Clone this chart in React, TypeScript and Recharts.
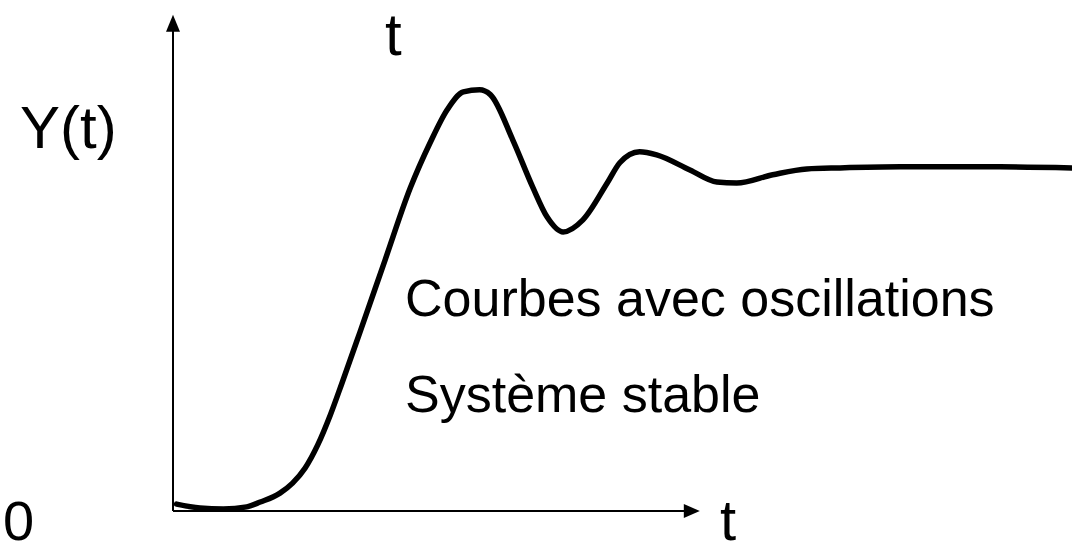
import React from "react";
import {
  LineChart,
  Line,
  XAxis,
  YAxis,
  ReferenceLine,
  ReferenceDot,
} from "recharts";

// step response (t in arbitrary time units, y normalised to the final value)
const times = [
  0.04, 0.3, 0.56, 0.82, 0.97, 1.19, 1.33, 1.47, 1.61, 1.75, 1.88, 2.08, 2.36, 2.64, 2.86,
  3.05, 3.23, 3.41, 3.53, 3.78, 4.0, 4.16, 4.34, 4.56, 4.83, 4.97, 5.19, 5.38, 5.75, 6.05,
  6.27, 6.67, 7.05, 7.42, 8.09, 9.2, 10.0,
];
const response = [
  0.02, 0.009, 0.006, 0.012, 0.026, 0.052, 0.081, 0.125, 0.192, 0.279, 0.372, 0.52, 0.73,
  0.939, 1.07, 1.166, 1.218, 1.224, 1.21, 1.078, 0.942, 0.855, 0.811, 0.846, 0.953, 1.012,
  1.044, 1.035, 0.991, 0.956, 0.953, 0.977, 0.994, 0.997, 1.0, 1.0, 0.997,
];

const X_AXIS_END = 5.86;
const Y_AXIS_END = 1.442;

const labels = {
  yTitle: "Y(t)",
  origin: "0",
  timeTop: "t",
  timeAxis: "t",
  line1: "Courbes avec oscillations",
  line2: "Système stable",
};

const data = times.map((t, i) => ({ t, y: response[i] }));

const FONT = "'Liberation Sans', Arial, Helvetica, sans-serif";

const ArrowRight = (props: any) => {
  const { cx, cy } = props;
  return <polygon points={`${cx},${cy} ${cx - 16},${cy - 7} ${cx - 16},${cy + 7}`} fill="#000" />;
};

const ArrowUp = (props: any) => {
  const { cx, cy } = props;
  return <polygon points={`${cx},${cy} ${cx - 7},${cy + 17} ${cx + 7},${cy + 17}`} fill="#000" />;
};

export default function App() {
  return (
    <div style={{ position: "absolute", left: 0, top: 0, width: 1072, height: 553, background: "#fff" }}>
      <LineChart
        width={1072}
        height={553}
        data={data}
        margin={{ top: 12, right: 0, left: 173, bottom: 42 }}
      >
        <XAxis type="number" dataKey="t" domain={[0, 10]} hide allowDataOverflow />
        <YAxis type="number" domain={[0, 1.45]} hide allowDataOverflow />
        <ReferenceLine
          segment={[{ x: 0, y: 0 }, { x: X_AXIS_END - 0.1, y: 0 }]}
          stroke="#000"
          strokeWidth={2}
          ifOverflow="visible"
        />
        <ReferenceLine
          segment={[{ x: 0, y: 0 }, { x: 0, y: Y_AXIS_END - 0.03 }]}
          stroke="#000"
          strokeWidth={2}
          ifOverflow="visible"
        />
        <ReferenceDot x={X_AXIS_END} y={0} shape={ArrowRight} ifOverflow="visible" />
        <ReferenceDot x={0} y={Y_AXIS_END} shape={ArrowUp} ifOverflow="visible" />
        <Line
          type="monotone"
          dataKey="y"
          stroke="#000"
          strokeWidth={5.5}
          strokeLinecap="round"
          dot={false}
          activeDot={false}
          isAnimationActive={false}
        />
        <text x={20} y={148} fontSize={60} fontFamily={FONT} fill="#000">{labels.yTitle}</text>
        <text x={3} y={540} fontSize={56} fontFamily={FONT} fill="#000">{labels.origin}</text>
        <text x={385} y={55} fontSize={60} fontFamily={FONT} fill="#000">{labels.timeTop}</text>
        <text x={720} y={540} fontSize={58} fontFamily={FONT} fill="#000">{labels.timeAxis}</text>
        <text x={405} y={316} fontSize={52} fontFamily={FONT} fill="#000">{labels.line1}</text>
        <text x={405} y={412} fontSize={52} fontFamily={FONT} fill="#000">{labels.line2}</text>
      </LineChart>
    </div>
  );
}
